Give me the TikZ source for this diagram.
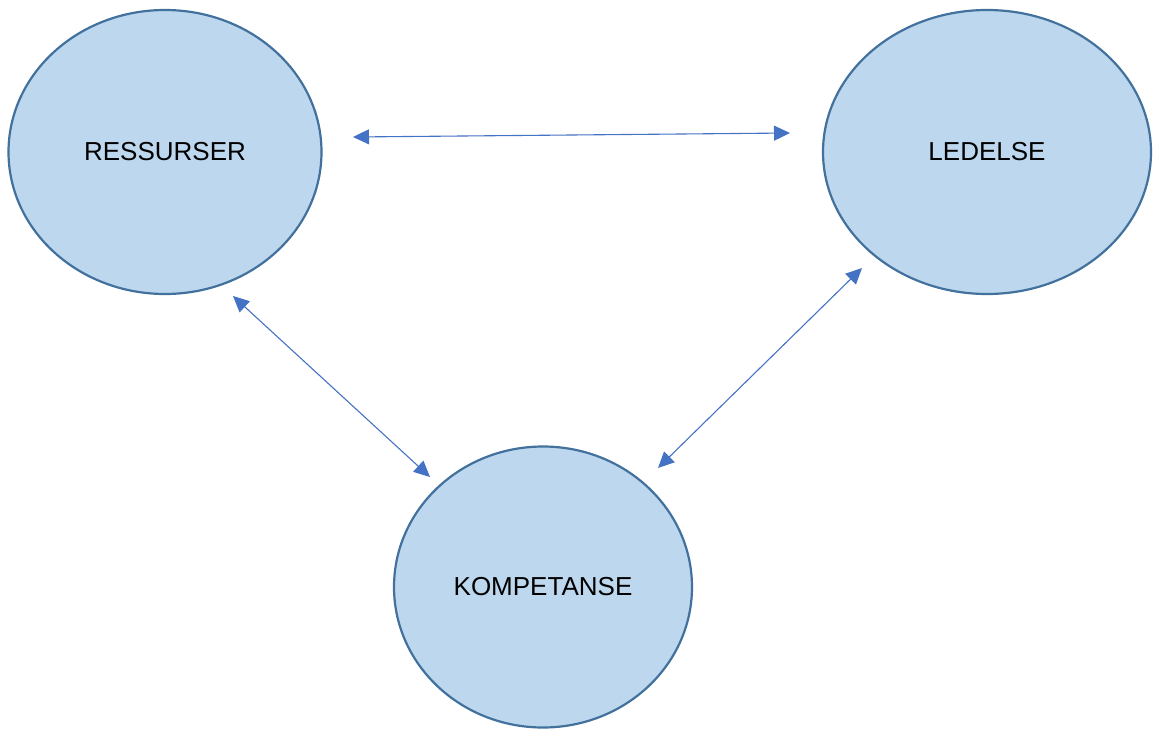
\documentclass[tikz,border=0pt]{standalone}
\usepackage{fontspec}
\setmainfont{Liberation Sans}
\usetikzlibrary{shapes.geometric, arrows.meta}
\definecolor{fillblue}{HTML}{BDD7EE}
\definecolor{edgeblue}{HTML}{41719C}
\definecolor{arrowblue}{HTML}{4472C4}

\begin{document}
\begin{tikzpicture}[x=1pt, y=-1pt,
  area/.style={ellipse, draw=edgeblue, fill=fillblue, line width=2.2pt, inner sep=0pt,
    font=\fontsize{26}{30}\selectfont},
  link/.style={{Triangle[length=16pt, width=15pt]}-{Triangle[length=16pt, width=15pt]},
    draw=arrowblue, line width=1.1pt}]
  \useasboundingbox (0,0) rectangle (1155,728);

  \node[area, minimum width=313pt, minimum height=284pt] (res) at (165,152) {RESSURSER};
  \node[area, minimum width=328pt, minimum height=284pt] (led) at (987,152) {LEDELSE};
  \node[area, minimum width=298pt, minimum height=281pt] (komp) at (543,587) {KOMPETANSE};

  % free ends of the links
  \coordinate (res-r) at (353,137);
  \coordinate (res-b) at (233,296);
  \coordinate (led-l) at (790,133);
  \coordinate (led-b) at (862,268);
  \coordinate (komp-l) at (430,477);
  \coordinate (komp-r) at (658,468);

  \draw[link] (res-r) -- (led-l);
  \draw[link] (res-b) -- (komp-l);
  \draw[link] (led-b) -- (komp-r);
\end{tikzpicture}
\end{document}
